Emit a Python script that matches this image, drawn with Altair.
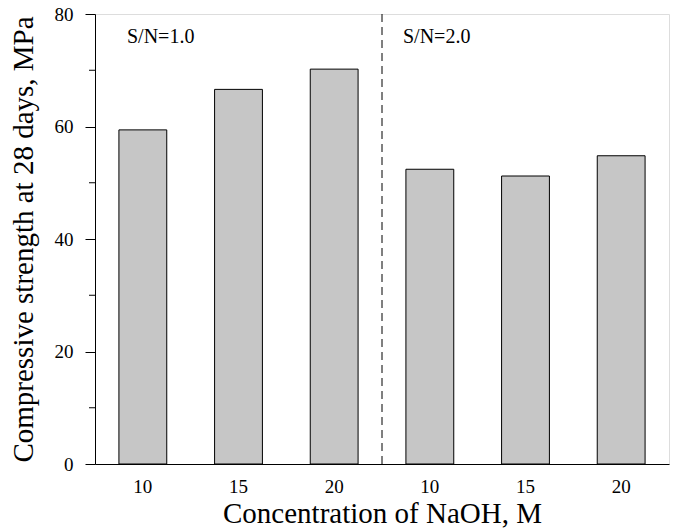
import altair as alt
import pandas as pd

ratios = ["1.0", "1.0", "1.0", "2.0", "2.0", "2.0"]
conc = [10, 15, 20, 10, 15, 20]
strength = [59.4, 66.6, 70.2, 52.4, 51.2, 54.8]
minor_ticks = [10, 30, 50, 70]
annotations = ["S/N=1.0", "S/N=2.0"]

keys = [f"{r}|{c}" for r, c in zip(ratios, conc)]
df = pd.DataFrame({"key": keys, "strength": strength})

FONT = "Liberation Serif"
W, H = 574, 450

xscale = alt.Scale(domain=keys, paddingInner=0.5, paddingOuter=0.25)
yscale = alt.Scale(domain=[0, 80], nice=False)

bars = alt.Chart(df).mark_bar(fill="#c6c6c6", stroke="black", strokeWidth=1).encode(
    x=alt.X("key:N", scale=xscale, sort=keys,
            axis=alt.Axis(title="Concentration of NaOH, M", labelExpr="split(datum.label,'|')[1]",
                          labelAngle=0, ticks=False, labelPadding=13, labelFontSize=19,
                          labelFont=FONT, titleFont=FONT, titleFontSize=29, titleFontWeight="normal",
                          titlePadding=3, domainColor="black", labelColor="black", titleColor="black")),
    y=alt.Y("strength:Q", scale=yscale,
            axis=alt.Axis(title="Compressive strength at 28 days, MPa", values=[0, 20, 40, 60, 80],
                          tickSize=10, tickColor="black", labelPadding=12, labelFontSize=19,
                          labelFont=FONT, titleFont=FONT, titleFontSize=29, titleFontWeight="normal",
                          titlePadding=16, domainColor="black", labelColor="black", titleColor="black",
                          grid=False)),
)

minor = alt.Chart(pd.DataFrame({"v": minor_ticks})).mark_rule(color="black", strokeWidth=1).encode(
    x=alt.value(-6), x2=alt.value(0), y=alt.Y("v:Q", scale=yscale)
)

divider = alt.Chart(pd.DataFrame({"a": [0]})).mark_rule(color="black", strokeWidth=1, strokeDash=[8, 5]).encode(
    x=alt.value(287), y=alt.value(0), y2=alt.value(H)
)

ann = alt.Chart(pd.DataFrame({"t": annotations, "px": [32, 308]})).mark_text(
    font=FONT, fontSize=20, align="left", baseline="middle", color="black"
).encode(x=alt.X("px:Q", scale=None), y=alt.value(23), text="t:N")

chart = alt.layer(bars, minor, divider, ann).properties(
    width=W, height=H,
    autosize=alt.AutoSizeParams(type="none"),
    padding={"left": 87, "top": 6, "right": 4, "bottom": 66},
).configure_view(stroke="black", strokeWidth=1).configure(background="white", font=FONT)

chart.save("out.html", embed_options={"renderer": "svg", "actions": False})
